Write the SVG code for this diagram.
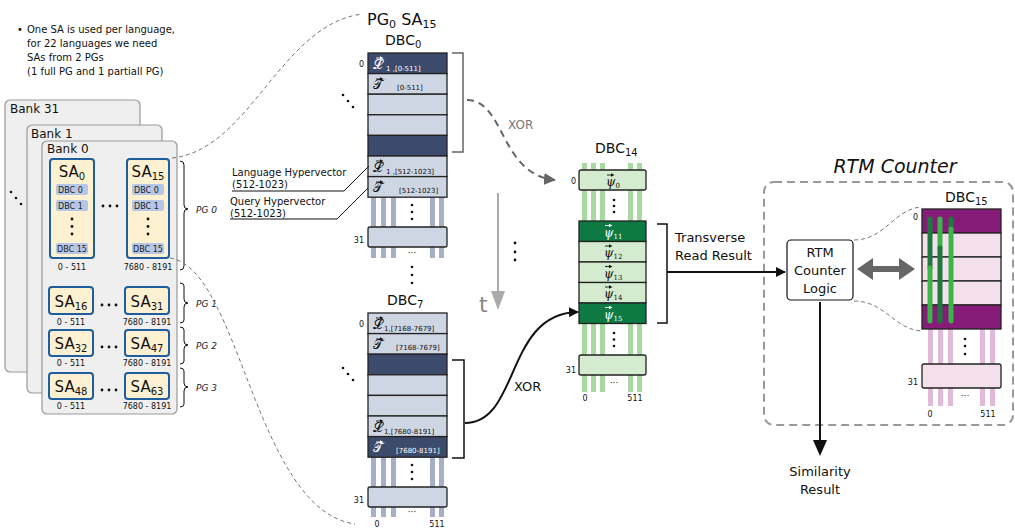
<svg xmlns="http://www.w3.org/2000/svg" width="1015" height="530" viewBox="0 0 1015 530">
<style>
text{font-family:"DejaVu Sans","Liberation Sans",sans-serif;fill:#111}
.bank{fill:#efefef;stroke:#999;stroke-width:1.2}
.sa{fill:#fdf1d2;stroke:#1f5e9e;stroke-width:2}
.pill{fill:#b5c6e6}
.pt{font-size:8px;fill:#222}
.rng{font-size:8px;text-anchor:middle}
.sal{font-size:15px;text-anchor:middle}
.pg{font-size:9px;font-style:italic;fill:#222}
.brace{fill:none;stroke:#111;stroke-width:1}
.dl{fill:#cfd6e3;stroke:#222;stroke-width:1.3}
.dd{fill:#3c4a6c;stroke:#222;stroke-width:1.3}
.bar{fill:#a6aec8}
.gl{fill:#d4ebcf;stroke:#222;stroke-width:1.3}
.gd{fill:#0c7a42;stroke:#222;stroke-width:1.3}
.gbar{fill:#a8d9a1}
.pl{fill:#f4e0ea;stroke:#222;stroke-width:1.3}
.pd{fill:#861c78;stroke:#222;stroke-width:1.3}
.pbar{fill:#e3b9da}
.sym{font-family:"DejaVu Serif","DejaVu Sans",serif;font-size:13px}
.psi{font-family:"DejaVu Serif",serif;font-style:italic;font-size:12px}
.sm{font-size:7px}
text.w{fill:#fff}
.idx{font-size:8px;text-anchor:end}
.dash{fill:none;stroke:#777;stroke-width:1;stroke-dasharray:4,3}
.dot{fill:#111}
text.gray{fill:#777}
text.tl{fill:#888}
</style>
<defs>
<marker id="ahb" markerWidth="10" markerHeight="10" refX="9" refY="5" orient="auto" markerUnits="userSpaceOnUse"><path d="M0,0 L10,5 L0,10 z" fill="#111"/></marker>
<marker id="ahg" markerWidth="12" markerHeight="12" refX="11" refY="6" orient="auto" markerUnits="userSpaceOnUse"><path d="M0,0 L12,6 L0,12 z" fill="#666"/></marker>
<g id="va"><path d="M0,0 H5" stroke="#111" stroke-width="0.9"/><path d="M4,-1.8 L7.5,0 L4,1.8 z" fill="#111"/></g>
<g id="vaw"><path d="M0,0 H5" stroke="#fff" stroke-width="0.9"/><path d="M4,-1.8 L7.5,0 L4,1.8 z" fill="#fff"/></g>
</defs>

<!-- note -->
<g id="note">
<text x="17" y="33" font-size="10">•</text>
<text x="27" y="33" font-size="10">One SA is used per language,</text>
<text x="27" y="47" font-size="10">for 22 languages we need</text>
<text x="27" y="61" font-size="10">SAs from 2 PGs</text>
<text x="27" y="75" font-size="10">(1 full PG and 1 partiall PG)</text>
</g>

<!-- banks -->
<g id="bank31"><rect class="bank" x="5" y="100" width="135" height="272" rx="5"/><text x="10" y="113" font-size="12">Bank 31</text></g>
<g id="bank1"><rect class="bank" x="27" y="125" width="135" height="268" rx="5"/><text x="31" y="138" font-size="12">Bank 1</text></g>
<g id="bank0"><rect class="bank" x="42" y="141" width="135" height="273" rx="5"/><text x="47" y="153" font-size="12">Bank 0</text></g>
<g id="bankdots"><circle class="dot" cx="11" cy="192" r="1.3"/><circle class="dot" cx="16" cy="198" r="1.3"/><circle class="dot" cx="21" cy="204" r="1.3"/></g>

<!-- SA0 -->
<g id="sa0">
<rect class="sa" x="50" y="159" width="44" height="99" rx="3"/>
<text class="sal" x="72" y="177">SA<tspan font-size="10" dy="3">0</tspan></text>
<rect class="pill" x="56" y="184" width="32" height="11" rx="2"/><text class="pt" x="58" y="192.5">DBC 0</text>
<rect class="pill" x="56" y="200" width="32" height="11" rx="2"/><text class="pt" x="58" y="208.5">DBC 1</text>
<circle class="dot" cx="72" cy="219" r="1.4"/><circle class="dot" cx="72" cy="226.5" r="1.4"/><circle class="dot" cx="72" cy="234" r="1.4"/>
<rect class="pill" x="56" y="243" width="32" height="11" rx="2"/><text class="pt" x="57" y="251.5">DBC 15</text>
<text class="rng" x="72" y="270">0 - 511</text>
</g>
<g id="sa15">
<rect class="sa" x="127" y="159" width="42" height="99" rx="3"/>
<text class="sal" x="148" y="177">SA<tspan font-size="10" dy="3">15</tspan></text>
<rect class="pill" x="132" y="184" width="32" height="11" rx="2"/><text class="pt" x="134" y="192.5">DBC 0</text>
<rect class="pill" x="132" y="200" width="32" height="11" rx="2"/><text class="pt" x="134" y="208.5">DBC 1</text>
<circle class="dot" cx="148" cy="219" r="1.4"/><circle class="dot" cx="148" cy="226.5" r="1.4"/><circle class="dot" cx="148" cy="234" r="1.4"/>
<rect class="pill" x="132" y="243" width="32" height="11" rx="2"/><text class="pt" x="133" y="251.5">DBC 15</text>
<text class="rng" x="148" y="270">7680 - 8191</text>
</g>
<g id="sadots0"><circle class="dot" cx="103" cy="206" r="1.4"/><circle class="dot" cx="110" cy="206" r="1.4"/><circle class="dot" cx="117" cy="206" r="1.4"/></g>

<g id="sa16">
<rect class="sa" x="49" y="287" width="44" height="27" rx="3"/>
<text class="sal" x="71" y="307">SA<tspan font-size="10" dy="3">16</tspan></text>
<text class="rng" x="71" y="325">0 - 511</text>
</g>
<g id="sa31">
<rect class="sa" x="125" y="287" width="44" height="27" rx="3"/>
<text class="sal" x="147" y="307">SA<tspan font-size="10" dy="3">31</tspan></text>
<text class="rng" x="147" y="325">7680 - 8191</text>
</g>
<g id="sadots1"><circle class="dot" cx="102" cy="305" r="1.4"/><circle class="dot" cx="109" cy="305" r="1.4"/><circle class="dot" cx="116" cy="305" r="1.4"/></g>

<g id="sa32">
<rect class="sa" x="49" y="330" width="44" height="26" rx="3"/>
<text class="sal" x="71" y="349">SA<tspan font-size="10" dy="3">32</tspan></text>
<text class="rng" x="71" y="366">0 - 511</text>
</g>
<g id="sa47">
<rect class="sa" x="125" y="330" width="44" height="26" rx="3"/>
<text class="sal" x="147" y="349">SA<tspan font-size="10" dy="3">47</tspan></text>
<text class="rng" x="147" y="366">7680 - 8191</text>
</g>
<g id="sadots2"><circle class="dot" cx="102" cy="347" r="1.4"/><circle class="dot" cx="109" cy="347" r="1.4"/><circle class="dot" cx="116" cy="347" r="1.4"/></g>

<g id="sa48">
<rect class="sa" x="49" y="373" width="44" height="26" rx="3"/>
<text class="sal" x="71" y="392">SA<tspan font-size="10" dy="3">48</tspan></text>
<text class="rng" x="71" y="409">0 - 511</text>
</g>
<g id="sa63">
<rect class="sa" x="125" y="373" width="44" height="26" rx="3"/>
<text class="sal" x="147" y="392">SA<tspan font-size="10" dy="3">63</tspan></text>
<text class="rng" x="147" y="409">7680 - 8191</text>
</g>
<g id="sadots3"><circle class="dot" cx="102" cy="390" r="1.4"/><circle class="dot" cx="109" cy="390" r="1.4"/><circle class="dot" cx="116" cy="390" r="1.4"/></g>

<!-- PG braces -->
<g id="pg0"><path class="brace" d="M180,161 Q184,161 184,165 V205 Q184,209 188,209 Q184,209 184,213 V266 Q184,270 180,270"/><text class="pg" x="196" y="213">PG 0</text></g>
<g id="pg1"><path class="brace" d="M180,283 Q184,283 184,286 V299 Q184,303 188,303 Q184,303 184,307 V320 Q184,323 180,323"/><text class="pg" x="196" y="307">PG 1</text></g>
<g id="pg2"><path class="brace" d="M180,327 Q184,327 184,330 V341 Q184,345 188,345 Q184,345 184,349 V361 Q184,364 180,364"/><text class="pg" x="196" y="349">PG 2</text></g>
<g id="pg3"><path class="brace" d="M180,368 Q184,368 184,371 V383 Q184,387 188,387 Q184,387 184,391 V404 Q184,407 180,407"/><text class="pg" x="196" y="391">PG 3</text></g>

<!-- DBC0 column -->
<g id="title"><text x="367" y="25" font-size="16">PG<tspan font-size="11" dy="3">0</tspan><tspan dy="-3"> SA</tspan><tspan font-size="11" dy="3">15</tspan></text></g>
<g id="dbc0">
<text x="385" y="45" font-size="14">DBC<tspan font-size="10" dy="3">0</tspan></text>
<rect class="bar" x="371" y="197" width="5" height="61"/><rect class="bar" x="381" y="197" width="5" height="61"/><rect class="bar" x="391" y="197" width="5" height="61"/><rect class="bar" x="430" y="197" width="5" height="61"/><rect class="bar" x="439" y="197" width="5" height="61"/>
<rect class="dd" x="368" y="53" width="79" height="20.6"/>
<rect class="dl" x="368" y="73.6" width="79" height="20.6"/>
<rect class="dl" x="368" y="94.2" width="79" height="20.6"/>
<rect class="dl" x="368" y="114.8" width="79" height="20.6"/>
<rect class="dd" x="368" y="135.4" width="79" height="20.6"/>
<rect class="dl" x="368" y="156" width="79" height="20.6"/>
<rect class="dl" x="368" y="176.6" width="79" height="20.6"/>
<rect class="dl" x="368" y="227" width="79" height="20" rx="2"/>
<text class="idx" x="364" y="67">0</text>
<text class="idx" x="364" y="243">31</text>
<text class="sym w" x="373" y="69">𝓛</text><use href="#vaw" x="376" y="58"/><text class="sm w" x="386" y="71">1 ,[0-511]</text>
<text class="sym" x="373" y="89">𝒯</text><use href="#va" x="376" y="79"/><text class="sm" x="397" y="90">[0-511]</text>
<text class="sym" x="373" y="172">𝓛</text><use href="#va" x="376" y="161"/><text class="sm" x="386" y="174">1 ,[512-1023]</text>
<text class="sym" x="373" y="192">𝒯</text><use href="#va" x="376" y="182"/><text class="sm" x="399" y="193">[512-1023]</text>
<circle class="dot" cx="412" cy="205" r="1.3"/><circle class="dot" cx="412" cy="212" r="1.3"/><circle class="dot" cx="412" cy="219" r="1.3"/>
<text x="412" y="256" font-size="9" text-anchor="middle">···</text>
<circle class="dot" cx="343" cy="95" r="1.3"/><circle class="dot" cx="348" cy="101" r="1.3"/><circle class="dot" cx="353" cy="107" r="1.3"/>
</g>
<g id="middots"><circle class="dot" cx="412" cy="267" r="1.3"/><circle class="dot" cx="412" cy="275" r="1.3"/><circle class="dot" cx="412" cy="283" r="1.3"/></g>

<!-- hypervector labels -->
<g id="labels">
<text x="232" y="176" font-size="10">Language Hypervector</text>
<text x="232" y="188" font-size="10">(512-1023)</text>
<text x="230" y="205" font-size="10">Query Hypervector</text>
<text x="230" y="217" font-size="10">(512-1023)</text>
</g>

<!-- DBC7 column -->
<g id="dbc7">
<text x="387" y="305" font-size="14">DBC<tspan font-size="10" dy="3">7</tspan></text>
<rect class="bar" x="371" y="457" width="5" height="60"/><rect class="bar" x="381" y="457" width="5" height="60"/><rect class="bar" x="391" y="457" width="5" height="60"/><rect class="bar" x="430" y="457" width="5" height="60"/><rect class="bar" x="439" y="457" width="5" height="60"/>
<rect class="dl" x="368" y="313" width="79" height="20.6"/>
<rect class="dl" x="368" y="333.6" width="79" height="20.6"/>
<rect class="dd" x="368" y="354.2" width="79" height="20.6"/>
<rect class="dl" x="368" y="374.8" width="79" height="20.6"/>
<rect class="dl" x="368" y="395.4" width="79" height="20.6"/>
<rect class="dl" x="368" y="416" width="79" height="20.6"/>
<rect class="dd" x="368" y="436.6" width="79" height="20.6"/>
<rect class="dl" x="368" y="487" width="79" height="20" rx="2"/>
<text class="idx" x="364" y="327">0</text>
<text class="idx" x="364" y="503">31</text>
<text class="sym" x="373" y="329">𝓛</text><use href="#va" x="376" y="318"/><text class="sm" x="384" y="331">1,[7168-7679]</text>
<text class="sym" x="373" y="349">𝒯</text><use href="#va" x="376" y="339"/><text class="sm" x="396" y="350">[7168-7679]</text>
<text class="sym" x="373" y="432">𝓛</text><use href="#va" x="376" y="421"/><text class="sm" x="384" y="434">1,[7680-8191]</text>
<text class="sym w" x="373" y="452">𝒯</text><use href="#vaw" x="376" y="442"/><text class="sm w" x="396" y="453">[7680-8191]</text>
<circle class="dot" cx="412" cy="465" r="1.3"/><circle class="dot" cx="412" cy="472" r="1.3"/><circle class="dot" cx="412" cy="479" r="1.3"/>
<text x="412" y="515" font-size="9" text-anchor="middle">···</text>
<text x="377" y="527" font-size="8" text-anchor="middle">0</text>
<text x="437" y="527" font-size="8" text-anchor="middle">511</text>
<circle class="dot" cx="343" cy="368" r="1.3"/><circle class="dot" cx="348" cy="374" r="1.3"/><circle class="dot" cx="353" cy="380" r="1.3"/>
</g>

<!-- time axis -->
<g id="time">
<line x1="498" y1="193" x2="498" y2="294" stroke="#aaa" stroke-width="2"/>
<path d="M491,291 L505,291 L498,310 z" fill="#aaa"/>
<text class="tl" x="479" y="312" font-size="22">t</text>
<circle class="dot" cx="515" cy="243" r="1.4"/><circle class="dot" cx="515" cy="252" r="1.4"/><circle class="dot" cx="515" cy="260" r="1.4"/>
</g>

<!-- DBC14 -->
<g id="dbc14">
<text x="595" y="153" font-size="14">DBC<tspan font-size="10" dy="3">14</tspan></text>
<rect class="gbar" x="582" y="163" width="5" height="229"/><rect class="gbar" x="591" y="163" width="5" height="229"/><rect class="gbar" x="600" y="163" width="5" height="229"/><rect class="gbar" x="628" y="163" width="5" height="229"/><rect class="gbar" x="637" y="163" width="5" height="229"/>
<rect class="gl" x="579" y="170" width="67" height="20" rx="2"/>
<rect class="gd" x="579" y="221" width="67" height="20.5"/>
<rect class="gl" x="579" y="241.5" width="67" height="20.5"/>
<rect class="gl" x="579" y="262" width="67" height="20.5"/>
<rect class="gl" x="579" y="282.5" width="67" height="20.5"/>
<rect class="gd" x="579" y="303" width="67" height="20.5"/>
<rect class="gl" x="579" y="355" width="67" height="20" rx="2"/>
<text class="idx" x="576" y="184">0</text>
<text class="idx" x="576" y="373">31</text>
<text class="psi" x="606" y="186">ψ<tspan font-size="7" font-style="normal" dy="2">0</tspan></text><use href="#va" x="607" y="175"/>
<text class="psi w" x="604" y="236.5">ψ<tspan font-size="7" font-style="normal" dy="2">11</tspan></text><use href="#vaw" x="605" y="225.5"/>
<text class="psi" x="604" y="257">ψ<tspan font-size="7" font-style="normal" dy="2">12</tspan></text><use href="#va" x="605" y="246"/>
<text class="psi" x="604" y="277.5">ψ<tspan font-size="7" font-style="normal" dy="2">13</tspan></text><use href="#va" x="605" y="266.5"/>
<text class="psi" x="604" y="298">ψ<tspan font-size="7" font-style="normal" dy="2">14</tspan></text><use href="#va" x="605" y="287"/>
<text class="psi w" x="604" y="318.5">ψ<tspan font-size="7" font-style="normal" dy="2">15</tspan></text><use href="#vaw" x="605" y="307.5"/>
<circle class="dot" cx="614" cy="200" r="1.3"/><circle class="dot" cx="614" cy="206" r="1.3"/><circle class="dot" cx="614" cy="212" r="1.3"/>
<circle class="dot" cx="614" cy="333" r="1.3"/><circle class="dot" cx="614" cy="339.5" r="1.3"/><circle class="dot" cx="614" cy="346" r="1.3"/>
<text x="614" y="386" font-size="9" text-anchor="middle">···</text>
<text x="585" y="401" font-size="8" text-anchor="middle">0</text>
<text x="635" y="401" font-size="8" text-anchor="middle">511</text>
</g>

<!-- RTM counter -->
<g id="rtm">
<rect x="764" y="182" width="249" height="243" rx="10" fill="none" stroke="#999" stroke-width="2" stroke-dasharray="8,5"/>
<text x="895" y="173" font-size="19" font-style="italic" text-anchor="middle">RTM Counter</text>
</g>
<g id="rtmlogic">
<rect x="787" y="240" width="66" height="60" rx="4" fill="#fff" stroke="#111" stroke-width="1.2"/>
<text x="820" y="257" font-size="13" text-anchor="middle">RTM</text>
<text x="820" y="275" font-size="13" text-anchor="middle">Counter</text>
<text x="820" y="293" font-size="13" text-anchor="middle">Logic</text>
</g>
<g id="dbc15">
<text x="945" y="202" font-size="14">DBC<tspan font-size="10" dy="3">15</tspan></text>
<rect class="pbar" x="928" y="329" width="5" height="77"/><rect class="pbar" x="938" y="329" width="5" height="77"/><rect class="pbar" x="948" y="329" width="5" height="77"/><rect class="pbar" x="980" y="329" width="5" height="77"/><rect class="pbar" x="990" y="329" width="5" height="77"/>
<rect class="pd" x="922" y="209" width="79" height="24"/>
<rect class="pl" x="922" y="233" width="79" height="24"/>
<rect class="pl" x="922" y="257" width="79" height="24"/>
<rect class="pl" x="922" y="281" width="79" height="24"/>
<rect class="pd" x="922" y="305" width="79" height="24"/>
<rect class="pl" x="922" y="364" width="79" height="24" rx="2"/>
<text class="idx" x="918" y="220">0</text>
<text class="idx" x="918" y="385">31</text>
<line x1="930" y1="219" x2="930" y2="268" stroke="#1c7a3e" stroke-width="5" stroke-linecap="round"/>
<line x1="930" y1="268" x2="930" y2="321" stroke="#3bb54a" stroke-width="5" stroke-linecap="round"/>
<line x1="940" y1="219" x2="940" y2="248" stroke="#3bb54a" stroke-width="5" stroke-linecap="round"/>
<line x1="940" y1="248" x2="940" y2="321" stroke="#1c7a3e" stroke-width="5" stroke-linecap="round"/>
<line x1="951" y1="219" x2="951" y2="229" stroke="#1c7a3e" stroke-width="5" stroke-linecap="round"/>
<line x1="951" y1="229" x2="951" y2="321" stroke="#3bb54a" stroke-width="5" stroke-linecap="round"/>
<circle class="dot" cx="965" cy="339" r="1.3"/><circle class="dot" cx="965" cy="346" r="1.3"/><circle class="dot" cx="965" cy="354" r="1.3"/>
<text x="965" y="399" font-size="9" text-anchor="middle">···</text>
<text x="930" y="417" font-size="8" text-anchor="middle">0</text>
<text x="988" y="417" font-size="8" text-anchor="middle">511</text>
</g>
<g id="similarity">
<text x="820" y="476" font-size="13" text-anchor="middle">Similarity</text>
<text x="820" y="494" font-size="13" text-anchor="middle">Result</text>
</g>

<!-- connectors -->
<g id="connectors">
<path class="dash" d="M172,158 C250,150 280,25 362,14"/>
<path class="dash" d="M170,258 C240,268 255,510 355,524"/>
<path d="M232,191 H344 L369,166" fill="none" stroke="#111" stroke-width="1"/>
<path d="M230,219 H337 L368,188" fill="none" stroke="#111" stroke-width="1"/>
<path d="M452,53 H463 V152 H452" fill="none" stroke="#666" stroke-width="1.5"/>
<path d="M467,100 C505,100 500,175 555,180" fill="none" stroke="#666" stroke-width="2" stroke-dasharray="7,5" marker-end="url(#ahg)"/>
<text class="gray" x="508" y="129" font-size="12">XOR</text>
<path d="M452,360 H464 V458 H452" fill="none" stroke="#111" stroke-width="1.5"/>
<path d="M465,423 C520,423 505,313 578,312" fill="none" stroke="#111" stroke-width="2" marker-end="url(#ahb)"/>
<text x="514" y="391" font-size="13">XOR</text>
<path d="M657,224 H667 V323 H657" fill="none" stroke="#111" stroke-width="1.5"/>
<line x1="667" y1="272" x2="785" y2="272" stroke="#111" stroke-width="2" marker-end="url(#ahb)"/>
<text x="675" y="242" font-size="13">Transverse</text>
<text x="675" y="260" font-size="13">Read Result</text>
<path class="dash" d="M854,240 C885,240 895,208 922,207"/>
<path class="dash" d="M854,301 C885,301 895,330 922,331"/>
<line x1="870" y1="269" x2="902" y2="269" stroke="#666" stroke-width="6"/>
<path d="M857,269 L873,258 L873,280 z M915,269 L899,258 L899,280 z" fill="#666"/>
<line x1="820" y1="302" x2="820" y2="442" stroke="#111" stroke-width="2"/>
<path d="M813,440 L827,440 L820,456 z" fill="#111"/>
</g>
</svg>
